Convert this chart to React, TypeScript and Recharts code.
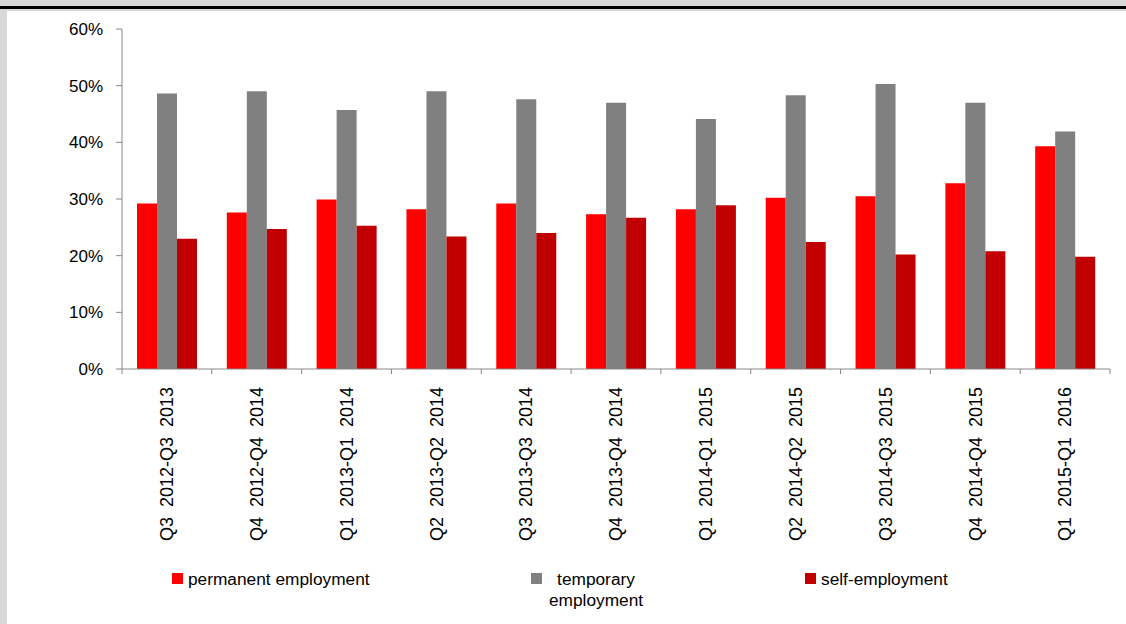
import { BarChart, Bar, XAxis, YAxis } from "recharts";

const categories = [
  "Q3  2012-Q3  2013",
  "Q4  2012-Q4  2014",
  "Q1  2013-Q1  2014",
  "Q2  2013-Q2  2014",
  "Q3  2013-Q3  2014",
  "Q4  2013-Q4  2014",
  "Q1  2014-Q1  2015",
  "Q2  2014-Q2  2015",
  "Q3  2014-Q3  2015",
  "Q4  2014-Q4  2015",
  "Q1  2015-Q1  2016",
];
const permanent = [29.2, 27.6, 29.9, 28.2, 29.2, 27.3, 28.2, 30.2, 30.5, 32.8, 39.3];
const temporary = [48.6, 49.0, 45.7, 49.0, 47.6, 47.0, 44.1, 48.3, 50.3, 47.0, 41.9];
const selfEmployment = [23.0, 24.7, 25.3, 23.4, 24.0, 26.7, 28.9, 22.4, 20.2, 20.8, 19.8];
const yTicks = [0, 10, 20, 30, 40, 50, 60];

const data = categories.map((name, i) => ({
  name,
  permanent: permanent[i],
  temporary: temporary[i],
  self: selfEmployment[i],
}));

const FONT = "'Liberation Sans', Arial, sans-serif";
const AXIS = "#868686";
const PLOT_LEFT = 122;
const PLOT_RIGHT = 1110;
const BAND = (PLOT_RIGHT - PLOT_LEFT) / categories.length;

const XTick = (props: any) => {
  const { x, y, payload, index } = props;
  const half = BAND / 2;
  return (
    <g>
      <line x1={x - half} x2={x - half} y1={y} y2={y + 5} stroke={AXIS} strokeWidth={1} />
      {index === categories.length - 1 && (
        <line x1={x + half} x2={x + half} y1={y} y2={y + 5} stroke={AXIS} strokeWidth={1} />
      )}
      <text
        transform={`translate(${x},${y + 18}) rotate(-90)`}
        textAnchor="end"
        dy="0.35em"
        fontSize={18}
        fontFamily={FONT}
        fill="#000"
        style={{ whiteSpace: "pre" }}
      >
        {payload.value}
      </text>
    </g>
  );
};

const legendText = { position: "absolute" as const, fontFamily: FONT, fontSize: 17.3, lineHeight: "21px", color: "#000" };
const square = (left: number, color: string) => (
  <div style={{ position: "absolute", left, top: 573, width: 11, height: 11, background: color }} />
);

const App = () => {
  return (
    <div style={{ position: "absolute", left: 0, top: 0, width: 1126, height: 624, background: "#d9d9d9", overflow: "hidden" }}>
      <div style={{ position: "absolute", left: 0, top: 6, width: 1126, height: 3, background: "#000" }} />
      <div style={{ position: "absolute", left: 7, top: 11, width: 1119, height: 613, background: "#fff" }} />
      <div style={{ position: "absolute", left: 0, top: 0 }}>
        <BarChart
          width={1126}
          height={624}
          data={data}
          margin={{ top: 29, right: 1126 - PLOT_RIGHT, bottom: 0, left: 0 }}
          barGap={0}
        >
          <XAxis
            dataKey="name"
            height={255}
            interval={0}
            tickSize={0}
            tickMargin={0}
            tickLine={false}
            axisLine={{ stroke: AXIS }}
            tick={<XTick />}
          />
          <YAxis
            width={PLOT_LEFT}
            domain={[0, 60]}
            ticks={yTicks}
            tickFormatter={(v: number) => `${v}%`}
            tickSize={6}
            tickMargin={13}
            tickLine={{ stroke: AXIS }}
            axisLine={{ stroke: AXIS }}
            tick={{ fontSize: 17, fill: "#000", fontFamily: FONT }}
          />
          <Bar dataKey="permanent" fill="#ff0000" barSize={20} isAnimationActive={false} />
          <Bar dataKey="temporary" fill="#808080" barSize={20} isAnimationActive={false} />
          <Bar dataKey="self" fill="#c00000" barSize={20} isAnimationActive={false} />
        </BarChart>
      </div>
      {square(172, "#ff0000")}
      <div style={{ ...legendText, left: 188, top: 569 }}>permanent employment</div>
      {square(531, "#808080")}
      <div style={{ ...legendText, left: 544, top: 569, width: 104, textAlign: "center" }}>
        temporary
        <br />
        employment
      </div>
      {square(805, "#c00000")}
      <div style={{ ...legendText, left: 821, top: 569 }}>self-employment</div>
    </div>
  );
};

export default App;
